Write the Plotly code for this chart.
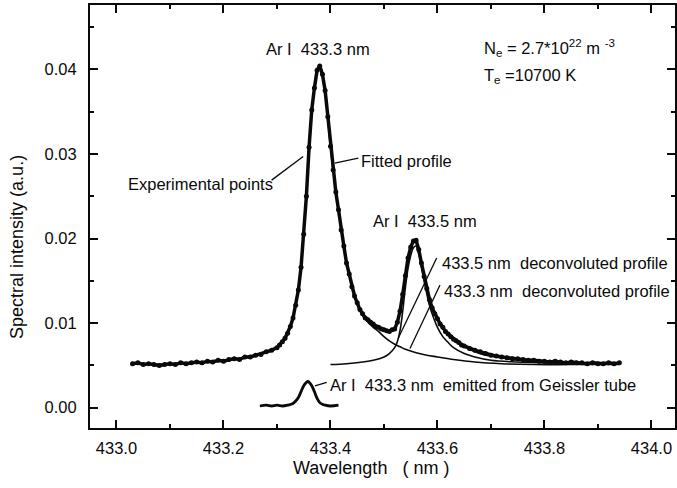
import plotly.graph_objects as go

# ---------------- data ----------------
exp_wl = [433.03, 433.04, 433.05, 433.06, 433.07, 433.08, 433.09, 433.10, 433.11, 433.12,
          433.13, 433.14, 433.15, 433.16, 433.17, 433.18, 433.19, 433.20, 433.21, 433.22,
          433.23, 433.24, 433.25, 433.26, 433.27, 433.28, 433.29,
          433.300, 433.305, 433.310, 433.315, 433.320, 433.325, 433.330, 433.335, 433.340, 433.345,
          433.350, 433.355, 433.360, 433.365, 433.370, 433.375, 433.380, 433.385, 433.390, 433.395,
          433.400, 433.405, 433.410, 433.415, 433.420, 433.425, 433.430, 433.435, 433.440, 433.445,
          433.450, 433.455, 433.460, 433.465, 433.470, 433.475, 433.480, 433.485, 433.490, 433.495,
          433.500, 433.505, 433.510, 433.515, 433.520, 433.525, 433.530, 433.535, 433.540, 433.545,
          433.550, 433.555, 433.560, 433.565, 433.570, 433.575, 433.580, 433.585, 433.590, 433.595,
          433.600, 433.605, 433.610, 433.615, 433.620, 433.625, 433.630, 433.635, 433.640, 433.645,
          433.650,
          433.66, 433.67, 433.68, 433.69, 433.70, 433.71, 433.72, 433.73, 433.74, 433.75,
          433.76, 433.77, 433.78, 433.79, 433.80, 433.81, 433.82, 433.83, 433.84, 433.85,
          433.86, 433.87, 433.88, 433.89, 433.90, 433.91, 433.92, 433.93, 433.94]
exp_int = [0.0052, 0.0053, 0.0051, 0.0052, 0.0051, 0.0050, 0.0051, 0.0052, 0.0051, 0.0053,
           0.0052, 0.0053, 0.0054, 0.0053, 0.0055, 0.0054, 0.0056, 0.0055, 0.0057, 0.0058,
           0.0057, 0.0060, 0.0060, 0.0062, 0.0063, 0.0066, 0.0068,
           0.0071, 0.0074, 0.0078, 0.0082, 0.0088, 0.0096, 0.0106, 0.0121, 0.0139, 0.0166,
           0.0205, 0.0250, 0.0308, 0.0352, 0.0378, 0.0399, 0.0404, 0.0394, 0.0375, 0.0344,
           0.0309, 0.0281, 0.0255, 0.0234, 0.0210, 0.0191, 0.0171, 0.0158, 0.0143, 0.0132,
           0.0124, 0.0116, 0.0111, 0.0106, 0.0104, 0.0101, 0.0099, 0.0096, 0.0095, 0.0093,
           0.0092, 0.0091, 0.0090, 0.0092, 0.0093, 0.0101, 0.0114, 0.0134, 0.0156, 0.0177,
           0.0190, 0.0197, 0.0198, 0.0187, 0.0171, 0.0155, 0.0141, 0.0128, 0.0118, 0.0111,
           0.0105, 0.0099, 0.0095, 0.0090, 0.0087, 0.0084, 0.0081, 0.0079, 0.0077, 0.0074,
           0.0073,
           0.0070, 0.0068, 0.0066, 0.0064, 0.0062, 0.0061, 0.0060, 0.0059, 0.0058, 0.0058,
           0.0057, 0.0056, 0.0056, 0.0055, 0.0055, 0.0054, 0.0055, 0.0054, 0.0053, 0.0054,
           0.0053, 0.0053, 0.0052, 0.0053, 0.0052, 0.0052, 0.0053, 0.0052, 0.0053]

fit_wl = [433.03, 433.05, 433.08, 433.11, 433.14, 433.17, 433.20, 433.22, 433.24, 433.26,
          433.27, 433.28, 433.29, 433.30, 433.31, 433.32, 433.33, 433.335, 433.34, 433.345,
          433.35, 433.355, 433.36, 433.365, 433.37, 433.375, 433.38, 433.385, 433.39, 433.395,
          433.40, 433.405, 433.41, 433.415, 433.42, 433.425, 433.43, 433.435, 433.44, 433.45,
          433.46, 433.47, 433.48, 433.49, 433.50, 433.51, 433.515, 433.52, 433.525, 433.53,
          433.535, 433.54, 433.545, 433.55, 433.555, 433.56, 433.565, 433.57, 433.575, 433.58,
          433.585, 433.59, 433.60, 433.61, 433.62, 433.63, 433.65, 433.67, 433.69, 433.71,
          433.74, 433.77, 433.80, 433.84, 433.88, 433.91, 433.94]
fit_int = [0.0052, 0.0052, 0.0051, 0.0052, 0.0053, 0.0054, 0.0056, 0.0057, 0.0059, 0.0061,
           0.0063, 0.0065, 0.0067, 0.0071, 0.0077, 0.0087, 0.0107, 0.0122, 0.0140, 0.0168,
           0.0208, 0.0252, 0.0310, 0.0352, 0.0377, 0.0398, 0.0405, 0.0395, 0.0376, 0.0342,
           0.0308, 0.0280, 0.0256, 0.0233, 0.0211, 0.0190, 0.0172, 0.0157, 0.0144, 0.0123,
           0.0111, 0.0104, 0.0099, 0.0095, 0.0092, 0.0091, 0.0091, 0.0094, 0.0100, 0.0115,
           0.0133, 0.0157, 0.0176, 0.0189, 0.0198, 0.0197, 0.0186, 0.0170, 0.0154, 0.0140,
           0.0127, 0.0117, 0.0104, 0.0094, 0.0086, 0.0080, 0.0072, 0.0066, 0.0062, 0.0060,
           0.0057, 0.0055, 0.0054, 0.0053, 0.0053, 0.0052, 0.0052]

dec433_3_wl = [433.42, 433.43, 433.44, 433.45, 433.46, 433.47, 433.48, 433.49, 433.50, 433.51,
               433.52, 433.53, 433.54, 433.56, 433.58, 433.60, 433.63, 433.67, 433.72, 433.78,
               433.85, 433.94]
dec433_3_int = [0.0211, 0.0172, 0.0143, 0.0122, 0.0109, 0.0101, 0.0095, 0.0090, 0.0084, 0.0079,
                0.0075, 0.0072, 0.0069, 0.0065, 0.0062, 0.0060, 0.0057, 0.0054, 0.0052, 0.0051,
                0.0051, 0.0051]

dec433_5_wl = [433.40, 433.43, 433.46, 433.48, 433.50, 433.51, 433.52, 433.525, 433.53, 433.535,
               433.54, 433.545, 433.55, 433.555, 433.56, 433.565, 433.57, 433.575, 433.58, 433.585,
               433.59, 433.60, 433.61, 433.62, 433.63, 433.65, 433.67, 433.70, 433.75, 433.80,
               433.87, 433.94]
dec433_5_int = [0.0051, 0.0052, 0.0054, 0.0056, 0.0060, 0.0064, 0.0071, 0.0078, 0.0091, 0.0114,
                0.0142, 0.0165, 0.0180, 0.0189, 0.0191, 0.0182, 0.0166, 0.0150, 0.0135, 0.0121,
                0.0111, 0.0095, 0.0084, 0.0077, 0.0071, 0.0064, 0.0060, 0.0056, 0.0054, 0.0053,
                0.0052, 0.0052]

geissler_wl = [433.268, 433.28, 433.29, 433.30, 433.31, 433.32, 433.33, 433.335, 433.34, 433.345,
               433.35, 433.355, 433.358, 433.36, 433.365, 433.37, 433.375, 433.38, 433.385, 433.39,
               433.40, 433.415]
geissler_int = [0.0002, 0.0003, 0.0002, 0.0003, 0.0002, 0.0003, 0.0005, 0.0008, 0.0012, 0.0019,
                0.0026, 0.0030, 0.0031, 0.0030, 0.0026, 0.0019, 0.0011, 0.0006, 0.0004, 0.0003,
                0.0002, 0.0003]

x_ticks = [433.0, 433.2, 433.4, 433.6, 433.8, 434.0]
y_ticks = [0.00, 0.01, 0.02, 0.03, 0.04]

FONT = "Liberation Sans, Arial, sans-serif"
BLACK = "#0a0a0a"

fig = go.Figure()
fig.add_trace(go.Scatter(x=exp_wl, y=exp_int, mode="lines+markers",
                         line=dict(color=BLACK, width=3.5),
                         marker=dict(color=BLACK, size=5), showlegend=False))
fig.add_trace(go.Scatter(x=fit_wl, y=fit_int, mode="lines", line_shape="spline",
                         line=dict(color=BLACK, width=1.6), showlegend=False))
fig.add_trace(go.Scatter(x=dec433_3_wl, y=dec433_3_int, mode="lines", line_shape="spline",
                         line=dict(color=BLACK, width=1.6), showlegend=False))
fig.add_trace(go.Scatter(x=dec433_5_wl, y=dec433_5_int, mode="lines", line_shape="spline",
                         line=dict(color=BLACK, width=1.6), showlegend=False))
fig.add_trace(go.Scatter(x=geissler_wl, y=geissler_int, mode="lines", line_shape="spline",
                         line=dict(color=BLACK, width=2.8), showlegend=False))

# leader lines
leaders = [
    (433.290, 0.0269, 433.349, 0.0297),   # experimental points
    (433.408, 0.0289, 433.452, 0.0295),   # fitted profile
    (433.5985, 0.0177, 433.5267, 0.0082),  # 433.5 deconvoluted
    (433.6047, 0.0145, 433.5486, 0.0070),  # 433.3 deconvoluted
    (433.371, 0.00257, 433.393, 0.00298),  # Geissler
]
for x0, y0, x1, y1 in leaders:
    fig.add_shape(type="line", x0=x0, y0=y0, x1=x1, y1=y1, xref="x", yref="y",
                  line=dict(color=BLACK, width=1.3))

def note(text, x, y, xanchor="left", size=16.5):
    fig.add_annotation(text=text, x=x, y=y, xref="x", yref="y", showarrow=False,
                       xanchor=xanchor, yanchor="middle",
                       font=dict(family=FONT, size=size, color=BLACK))

note("Ar I\u00a0 433.3 nm", 433.3766, 0.0424, "center")
note("Ar I\u00a0 433.5 nm", 433.5776, 0.02207, "center")
note("Fitted profile", 433.453, 0.0292)
note("Experimental points", 433.296, 0.02644, "right")
note("433.5 nm\u00a0 deconvoluted profile", 433.604, 0.01714)
note("433.3 nm\u00a0 deconvoluted profile", 433.609, 0.01383)
note("Ar I\u00a0 433.3 nm\u00a0 emitted from Geissler tube", 433.395, 0.00268)
note("N<sub>e</sub> = 2.7*10<sup>22</sup> m <sup>-3</sup>", 433.683, 0.0425)
note("T<sub>e</sub> =10700 K", 433.683, 0.0392)

# axis titles
fig.add_annotation(text="Spectral intensity (a.u.)", x=-0.1248, y=0.428, xref="paper", yref="paper",
                   textangle=-90, showarrow=False, xanchor="center", yanchor="middle",
                   font=dict(family=FONT, size=18, color=BLACK))
fig.add_annotation(text="Wavelength\u00a0\u00a0 ( nm )", x=0.48, y=-0.0946, xref="paper", yref="paper",
                   showarrow=False, xanchor="center", yanchor="middle",
                   font=dict(family=FONT, size=18, color=BLACK))

axis_common = dict(showline=True, linecolor=BLACK, linewidth=2, mirror="ticks",
                   ticks="inside", ticklen=8, tickwidth=2, tickcolor=BLACK,
                   showgrid=False, zeroline=False, automargin=False,
                   tickfont=dict(family=FONT, size=16.5, color=BLACK))

fig.update_xaxes(range=[432.9505, 434.044], tickvals=x_ticks, ticktext=[f"{v:.1f}" for v in x_ticks],
                 minor=dict(ticks="inside", ticklen=4, tickwidth=2, tickcolor=BLACK, dtick=0.1, tick0=433.0,
                            showgrid=False),
                 ticklabelstandoff=4, **axis_common)
fig.update_yaxes(range=[-0.0024, 0.0476], tickvals=y_ticks, ticktext=[f"{v:.2f}" for v in y_ticks],
                 minor=dict(ticks="inside", ticklen=4, tickwidth=2, tickcolor=BLACK, dtick=0.005, tick0=0,
                            showgrid=False),
                 ticklabelstandoff=8, **axis_common)

fig.update_layout(width=677, height=488, margin=dict(l=90, r=2, t=5, b=60),
                  plot_bgcolor="white", paper_bgcolor="white", showlegend=False)

fig.write_html("out.html", config={"displayModeBar": False},
               post_script="document.body.style.margin='0';document.body.style.padding='0';")
